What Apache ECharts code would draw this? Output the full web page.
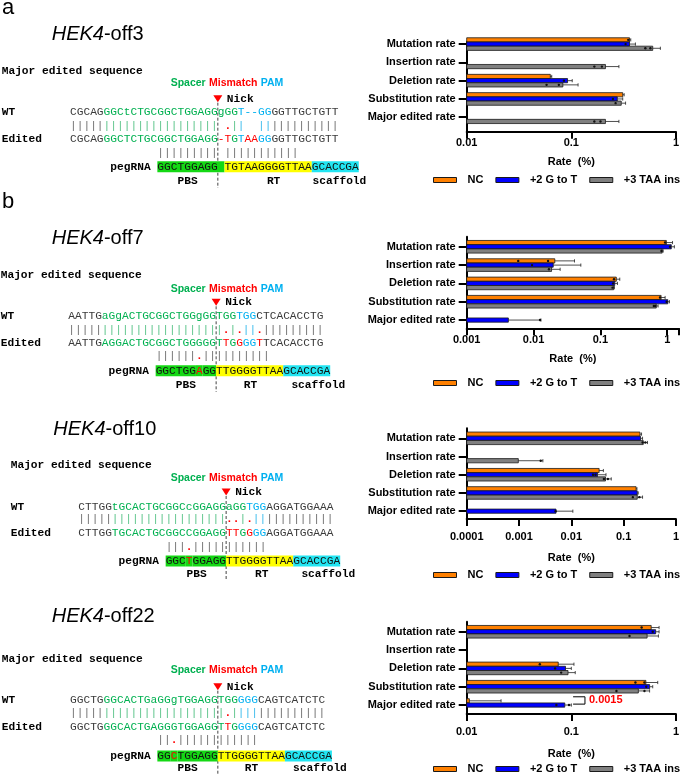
<!DOCTYPE html>
<html>
<head>
<meta charset="utf-8">
<title>HEK4 off-target editing</title>
<script src="https://cdn.jsdelivr.net/npm/echarts@6.0.0/dist/echarts.min.js"></script>
<style>
  html, body { margin: 0; padding: 0; background: #fff; }
  #main { width: 682px; height: 774px; }
</style>
</head>
<body>
<div id="main"></div>
<script>
// ---- data ----
const categories = ['Mutation rate', 'Insertion rate', 'Deletion rate', 'Substitution rate', 'Major edited rate'];
const groupNames = ['NC', '+2 G to T', '+3 TAA ins'];

// HEK4-off3 (rate %, mean and upper error end), null = no bar
const off3NC = [0.36, null, 0.063, 0.31, null];
const off3G2T = [0.36, null, 0.092, 0.275, null];
const off3TAA = [0.60, 0.212, 0.083, 0.30, 0.212];
const off3NCErr = [0.37, null, 0.065, 0.32, null];
const off3G2TErr = [0.41, null, 0.102, 0.31, null];
const off3TAAErr = [0.71, 0.285, 0.116, 0.33, 0.285];
// replicate dots: [group, category, value]
const off3Dots = [[0, 0, 0.35], [1, 0, 0.33], [2, 0, 0.51], [2, 0, 0.57], [2, 1, 0.166], [2, 1, 0.196],
  [1, 2, 0.085], [2, 2, 0.058], [2, 2, 0.076], [1, 3, 0.25], [2, 3, 0.265], [2, 4, 0.166], [2, 4, 0.19]];

// HEK4-off7
const off7NC = [0.97, 0.0208, 0.173, 0.81, null];
const off7G2T = [1.15, 0.0197, 0.164, 1.02, 0.0042];
const off7TAA = [0.84, 0.0186, 0.158, 0.686, null];
const off7NCErr = [1.2, 0.041, 0.195, 0.93, null];
const off7G2TErr = [1.28, 0.051, 0.18, 1.08, 0.0129];
const off7TAAErr = [0.87, 0.025, 0.162, 0.73, null];
const off7Dots = [[0, 0, 0.93], [1, 0, 1.1], [2, 0, 0.82], [0, 1, 0.0059], [0, 1, 0.0165], [1, 1, 0.0095],
  [2, 1, 0.017], [0, 2, 0.16], [1, 2, 0.155], [2, 2, 0.152], [0, 3, 0.78], [1, 3, 0.98], [2, 3, 0.63],
  [2, 3, 0.66], [1, 4, 0.0125]];

// HEK4-off10
const off10NC = [0.205, null, 0.034, 0.173, null];
const off10G2T = [0.21, null, 0.0316, 0.182, 0.0051];
const off10TAA = [0.237, 0.00097, 0.045, 0.182, null];
const off10NCErr = [0.22, null, 0.041, 0.18, null];
const off10G2TErr = [0.23, null, 0.046, 0.19, 0.0107];
const off10TAAErr = [0.286, 0.00286, 0.058, 0.23, null];
const off10Dots = [[2, 0, 0.23], [2, 0, 0.26], [2, 1, 0.0026], [1, 2, 0.026], [1, 2, 0.029], [2, 2, 0.042],
  [2, 2, 0.05], [2, 3, 0.15], [2, 3, 0.2], [1, 4, 0.005]];

// HEK4-off22
const off22NC = [0.58, null, 0.075, 0.516, 0.0106];
const off22G2T = [0.64, null, 0.088, 0.56, 0.0866];
const off22TAA = [0.53, null, 0.093, 0.437, null];
const off22NCErr = [0.69, null, 0.106, 0.67, 0.0213];
const off22G2TErr = [0.69, null, 0.10, 0.60, 0.10];
const off22TAAErr = [0.68, null, 0.109, 0.56, null];
const off22Dots = [[0, 0, 0.47], [1, 0, 0.6], [2, 0, 0.36], [0, 2, 0.05], [1, 2, 0.07], [2, 2, 0.08],
  [0, 3, 0.41], [0, 3, 0.5], [1, 3, 0.52], [2, 3, 0.27], [2, 3, 0.5], [1, 4, 0.072], [1, 4, 0.095]];
const off22Pval = '0.0015';
const off22Bracket = [0.104, 0.135];

// sequences: [text, colour codes (run length)]
const off3Seq = {
  wt: ['CGCAGGGCtCTGCGGCTGGAGGgGGT--GGGGTTGCTGTT', 'k5 g20 b5 k10'],
  m1: ['|'.repeat(22) + ' .||  ' + '|'.repeat(12), 'K5 G17 _1 d1 G1 B1 _2 B2 K10'],
  ed: ['CGCAGGGCTCTGCGGCTGGAGG-TGTAAGGGGTTGCTGTT', 'k5 g17 r2 g1 b1 r2 b2 k10'],
  m2: ['|'.repeat(9) + ' ' + '|'.repeat(11), 'K9 _1 K11'],
  peg: ['GGCTGGAGG TGTAAGGGGTTAAGCACCGA', 'x10 y13 z7']
};
const off7Seq = {
  wt: ['AATTGaGgACTGCGGCTGGgGGTGGTGGCTCACACCTG', 'k5 g20 b3 k10'],
  m1: ['|'.repeat(23) + '.|.||.' + '|'.repeat(9), 'K5 G18 d1 G1 d1 B2 d1 K9'],
  ed: ['AATTGAGGACTGCGGCTGGGGGTTGGGGTTCACACCTG', 'k5 g18 r1 g1 r1 b2 r1 k9'],
  m2: ['|'.repeat(6) + '.' + '|'.repeat(10), 'K6 d1 K10'],
  peg: ['GGCTGGAGGTTGGGGTTAAGCACCGA', 'x6 R1 x2 y10 z7']
};
const off10Seq = {
  wt: ['CTTGGtGCACTGCGGCcGGAGGaGGTGGAGGATGGAAA', 'k5 g20 b3 k10'],
  m1: ['|'.repeat(22) + '..|.' + '|'.repeat(12), 'K5 G17 d2 G1 d1 B2 K10'],
  ed: ['CTTGGTGCACTGCGGCCGGAGGTTGGGGAGGATGGAAA', 'k5 g17 r2 g1 r1 b2 k10'],
  m2: ['|||.' + '|'.repeat(11), 'K3 d1 K11'],
  peg: ['GGCTGGAGGTTGGGGTTAAGCACCGA', 'x3 R1 x5 y10 z7']
};
const off22Seq = {
  wt: ['GGCTGGGCACTGaGGgTGGAGGTGGGGGCAGTCATCTC', 'k5 g20 b3 k10'],
  m1: ['|'.repeat(23) + '.' + '|'.repeat(14), 'K5 G18 d1 G1 B3 K10'],
  ed: ['GGCTGGGCACTGAGGGTGGAGGTTGGGGCAGTCATCTC', 'k5 g18 r1 g1 b3 k10'],
  m2: ['||.' + '|'.repeat(12), 'K2 d1 K12'],
  peg: ['GGCTGGAGGTTGGGGTTAAGCACCGA', 'x2 R1 x6 y10 z7']
};

// ---- layout ----
const chartLayout = [
  {top: 41.7, height: 90, yMin: -0.13, yMax: 4.79, xMin: 0.01, xMax: 1, labelMargin: 6, nameGap: 25, legendY: 181},
  {top: 236.7, height: 91.6, yMin: -0.55, yMax: 4.45, xMin: 0.001, xMax: 1.5, labelMargin: 6, nameGap: 25, legendY: 384},
  {top: 428.3, height: 90.7, yMin: -0.55, yMax: 4.43, xMin: 0.0001, xMax: 1, labelMargin: 12, nameGap: 33, legendY: 576},
  {top: 621.7, height: 92.3, yMin: -0.55, yMax: 4.49, xMin: 0.01, xMax: 1, labelMargin: 12, nameGap: 34, legendY: 770}
];
const seqLayout = [
  {seq: off3Seq, name: '-off3', letter: 'a', letterY: 7.5, x0: 70, lx: 1.7, tx: 51.7, ty: 34, major: 71, smp: 83.3, nick: 98.7,
    wt: 112.5, m1: 125.8, ed: 139, m2: 153, peg: 166.7, lab: 181, labCols: [16, 29.3, 36.1], dashEnd: 188},
  {seq: off7Seq, name: '-off7', letter: 'b', letterY: 201.5, x0: 68.3, lx: 0.7, tx: 51.7, ty: 238.7, major: 275, smp: 289, nick: 302.3,
    wt: 316.3, m1: 330, ed: 343.5, m2: 356.5, peg: 370.7, lab: 385, labCols: [16, 26.1, 33.2], dashEnd: 392},
  {seq: off10Seq, name: '-off10', x0: 78.3, lx: 10.7, tx: 53.3, ty: 429.7, major: 465, smp: 477.7, nick: 492,
    wt: 506.7, m1: 519.5, ed: 532.7, m2: 546.7, peg: 561, lab: 574.3, labCols: [16.1, 26.3, 33.2], dashEnd: 581},
  {seq: off22Seq, name: '-off22', x0: 70, lx: 1.7, tx: 51.7, ty: 616.7, major: 659, smp: 670, nick: 686.7,
    wt: 700, m1: 713.3, ed: 726.7, m2: 740, peg: 756, lab: 768.3, labCols: [16, 26, 33.2], dashEnd: 774}
];

const SANS = "'Liberation Sans', Arial, sans-serif";
const MONO = "'Liberation Mono', 'Courier New', monospace";
const FS = 11.2, CW = FS * 0.6;
const COLORS = ['#ff8000', '#0000ff', '#808080'];
const BAR = 0.23;

const panelData = [
  {vals: [off3NC, off3G2T, off3TAA], errs: [off3NCErr, off3G2TErr, off3TAAErr], dots: off3Dots},
  {vals: [off7NC, off7G2T, off7TAA], errs: [off7NCErr, off7G2TErr, off7TAAErr], dots: off7Dots},
  {vals: [off10NC, off10G2T, off10TAA], errs: [off10NCErr, off10G2TErr, off10TAAErr], dots: off10Dots},
  {vals: [off22NC, off22G2T, off22TAA], errs: [off22NCErr, off22G2TErr, off22TAAErr], dots: off22Dots}
];

// rich text styles for sequences
const mono = (w) => (w ? 'bold ' : '') + FS + 'px ' + MONO;
const RICH = {
  k: {font: mono(), fill: '#3a3a3a'},
  g: {font: mono(), fill: '#00b050'},
  b: {font: mono(), fill: '#00b0f0'},
  r: {font: mono(), fill: '#ff0000'},
  K: {font: mono(), fill: '#707070'},
  G: {font: mono(), fill: '#5cc48a'},
  B: {font: mono(), fill: '#3cbcec'},
  d: {font: mono(true), fill: '#ff0000'},
  sp: {font: mono(), fill: '#000'},
  x: {font: mono(), fill: '#111', backgroundColor: '#14d814', lineHeight: 13},
  R: {font: mono(), fill: '#ff0000', backgroundColor: '#14d814', lineHeight: 13},
  y: {font: mono(), fill: '#111', backgroundColor: '#ffff00', lineHeight: 13},
  z: {font: mono(), fill: '#111', backgroundColor: '#22e5f2', lineHeight: 13}
};

function expand(rl) {
  return rl.split(' ').map(t => (t[0] === '_' ? ' ' : t[0]).repeat(+t.slice(1))).join('');
}
function toRich(text, rl) {
  const codes = expand(rl);
  let out = '';
  for (let i = 0; i < text.length;) {
    let j = i;
    while (j < text.length && codes[j] === codes[i]) j++;
    out += '{' + (codes[i] === ' ' ? 'sp' : codes[i]) + '|' + text.slice(i, j) + '}';
    i = j;
  }
  return out;
}
function txt(x, y, text, font, fill, align) {
  return {type: 'text', x, y, silent: true,
    style: {text, font, fill: fill || '#000', verticalAlign: 'middle', align: align || 'left'}};
}
function seqRow(x, y, spec) {
  return {type: 'text', x, y, silent: true,
    style: {text: toRich(spec[0], spec[1]), rich: RICH, font: mono(), verticalAlign: 'middle'}};
}

// ---- left side: sequence diagrams ----
const graphics = [];
seqLayout.forEach(S => {
  if (S.letter) graphics.push(txt(2, S.letterY, S.letter, '22px ' + SANS));
  graphics.push({type: 'text', x: S.tx, y: S.ty, silent: true, style: {
    text: '{i|HEK4}{n|' + S.name + '}', verticalAlign: 'middle',
    rich: {i: {font: 'italic 20px ' + SANS, fill: '#000'}, n: {font: '20px ' + SANS, fill: '#000'}}
  }});
  graphics.push(txt(S.lx, S.major, 'Major edited sequence', mono(true)));
  graphics.push({type: 'text', x: 227, y: S.smp, silent: true, style: {
    text: '{g|Spacer} {r|Mismatch} {b|PAM}', align: 'center', verticalAlign: 'middle',
    rich: {
      g: {font: 'bold 10.5px ' + SANS, fill: '#00b050'},
      r: {font: 'bold 10.5px ' + SANS, fill: '#ff0000'},
      b: {font: 'bold 10.5px ' + SANS, fill: '#00b0f0'}
    }
  }});
  const nx = S.x0 + 22 * CW;
  graphics.push({type: 'polygon', silent: true,
    shape: {points: [[nx - 4.5, S.nick - 3.5], [nx + 4.5, S.nick - 3.5], [nx, S.nick + 3.5]]},
    style: {fill: '#ff0000'}});
  graphics.push(txt(nx + 9, S.nick, 'Nick', mono(true)));
  graphics.push({type: 'line', silent: true,
    shape: {x1: nx, y1: S.nick + 4, x2: nx, y2: S.dashEnd},
    style: {stroke: '#444', lineWidth: 1, lineDash: [3, 2]}});
  graphics.push(txt(S.lx, S.wt, 'WT', mono(true)));
  graphics.push(txt(S.lx, S.ed, 'Edited', mono(true)));
  graphics.push(seqRow(S.x0, S.wt, S.seq.wt));
  graphics.push(seqRow(S.x0, S.m1, S.seq.m1));
  graphics.push(seqRow(S.x0, S.ed, S.seq.ed));
  graphics.push(seqRow(S.x0 + 13 * CW, S.m2, S.seq.m2));
  graphics.push(seqRow(S.x0 + 13 * CW, S.peg, S.seq.peg));
  graphics.push(txt(S.x0 + 6 * CW, S.peg, 'pegRNA', mono(true)));
  ['PBS', 'RT', 'scaffold'].forEach((t, i) => graphics.push(txt(S.x0 + S.labCols[i] * CW, S.lab, t, mono(true))));
});

// ---- right side: bar charts ----
function renderBar(k) {
  return function (params, api) {
    const v = api.value(0), c = api.value(1), e = api.value(2);
    const cs = params.coordSys;
    const yc = c + (k - 1) * BAR;
    const pEnd = api.coord([v, yc]);
    const yA = api.coord([v, yc - BAR / 2])[1], yB = api.coord([v, yc + BAR / 2])[1];
    const children = [{
      type: 'rect',
      shape: {x: cs.x, y: Math.min(yA, yB), width: pEnd[0] - cs.x, height: Math.abs(yB - yA)},
      style: {fill: COLORS[k], stroke: '#1a1a1a', lineWidth: 0.8}
    }];
    if (e > 0) {
      const xe = api.coord([e, yc])[0];
      children.push({type: 'line', shape: {x1: pEnd[0], y1: pEnd[1], x2: xe, y2: pEnd[1]}, style: {stroke: '#222', lineWidth: 0.8}});
      children.push({type: 'line', shape: {x1: xe, y1: pEnd[1] - 1.6, x2: xe, y2: pEnd[1] + 1.6}, style: {stroke: '#222', lineWidth: 0.8}});
    }
    return {type: 'group', children};
  };
}
function renderDot(params, api) {
  const p = api.coord([api.value(0), api.value(1) + (api.value(2) - 1) * BAR]);
  return {type: 'circle', shape: {cx: p[0], cy: p[1], r: 1.2}, style: {fill: '#111'}};
}
function renderBracket(params, api) {
  const c = api.value(1);
  const xa = api.coord([api.value(0), c])[0], xb = api.coord([api.value(2), c])[0];
  const yt = api.coord([api.value(0), c - 0.45])[1], yb = api.coord([api.value(0), c - 0.05])[1];
  return {type: 'group', children: [
    {type: 'polyline', shape: {points: [[xa, yt], [xb, yt], [xb, yb], [xa, yb]]}, style: {stroke: '#000', lineWidth: 1, fill: null}},
    {type: 'text', x: xb + 4, y: (yt + yb) / 2, style: {text: off22Pval, fill: '#ff0000', font: 'bold 11px ' + SANS, verticalAlign: 'middle'}}
  ]};
}

const axisFont = {fontFamily: SANS, fontWeight: 'bold', fontSize: 11, color: '#000'};
const grid = [], xAxis = [], yAxis = [], series = [], legend = [];
chartLayout.forEach((L, i) => {
  grid.push({left: 466.7, top: L.top, width: 213, height: L.height});
  xAxis.push({
    gridIndex: i, type: 'log', logBase: 10, min: L.xMin, max: L.xMax,
    name: 'Rate  (%)', nameLocation: 'middle', nameGap: L.nameGap, nameTextStyle: axisFont,
    axisLine: {onZero: false, lineStyle: {color: '#000', width: 2}},
    axisTick: {length: 7, lineStyle: {color: '#000', width: 2}},
    splitLine: {show: false}, minorTick: {show: false},
    axisLabel: Object.assign({margin: L.labelMargin, formatter: v => {
      const l = Math.log10(v);
      return Math.abs(l - Math.round(l)) < 1e-6 ? String(+Math.pow(10, Math.round(l)).toPrecision(3)) : '';
    }}, axisFont)
  });
  yAxis.push({
    gridIndex: i, type: 'value', inverse: true, min: L.yMin, max: L.yMax,
    axisLine: {show: true, onZero: false, lineStyle: {color: '#000', width: 2}},
    axisTick: {show: true, length: 8, lineStyle: {color: '#000', width: 2}, customValues: [0, 1, 2, 3, 4]},
    axisLabel: Object.assign({margin: 11, customValues: [0, 1, 2, 3, 4],
      formatter: v => categories[Math.round(v)] || ''}, axisFont),
    splitLine: {show: false}
  });
  legend.push({
    left: 433, top: L.legendY - 6.5, icon: 'rect', itemWidth: 23, itemHeight: 5, itemGap: 12,
    selectedMode: false, padding: 0,
    textStyle: Object.assign({padding: [0, 0, 0, 6]}, axisFont),
    data: groupNames.map((n, k) => ({name: n, itemStyle: {color: COLORS[k], borderColor: '#1a1a1a', borderWidth: 1}}))
  });
  const P = panelData[i];
  P.vals.forEach((vals, k) => {
    const data = [];
    vals.forEach((v, c) => { if (v != null) data.push([v, c, P.errs[k][c]]); });
    series.push({type: 'custom', name: groupNames[k], xAxisIndex: i, yAxisIndex: i, data,
      encode: {x: 0, y: 1}, itemStyle: {color: COLORS[k]}, renderItem: renderBar(k), z: 2, silent: true});
  });
  series.push({type: 'custom', xAxisIndex: i, yAxisIndex: i, data: P.dots.map(d => [d[2], d[1], d[0]]),
    encode: {x: 0, y: 1}, renderItem: renderDot, z: 3, silent: true});
});
series.push({type: 'custom', xAxisIndex: 3, yAxisIndex: 3,
  data: [[off22Bracket[0], 4, off22Bracket[1]]], encode: {x: 0, y: 1}, renderItem: renderBracket, z: 3, silent: true});

const chart = echarts.init(document.getElementById('main'));
chart.setOption({
  backgroundColor: '#fff',
  animation: false,
  grid, xAxis, yAxis, legend, series,
  graphic: {elements: graphics}
});
</script>
</body>
</html>
